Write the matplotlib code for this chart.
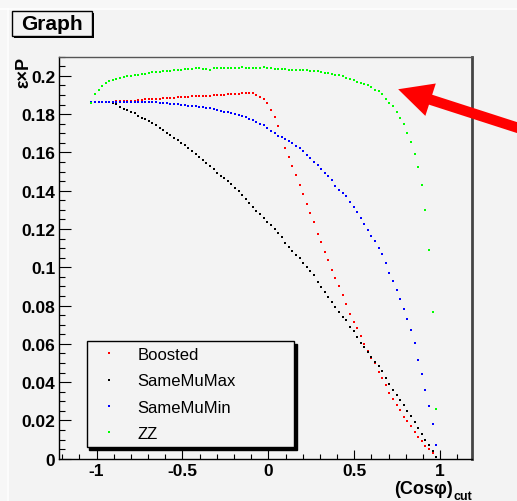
import matplotlib

matplotlib.use("Agg")
import matplotlib.pyplot as plt
from matplotlib.patches import Rectangle
from matplotlib.ticker import FuncFormatter, MultipleLocator

plt.rcParams["font.family"] = ["Liberation Sans", "DejaVu Sans"]

# Scan of the cut on cos(phi)
cos_cut = [
    -1.030, -1.009, -0.988, -0.967, -0.946, -0.926, -0.905, -0.884, -0.863, -0.842,
    -0.821, -0.800, -0.779, -0.758, -0.737, -0.717, -0.696, -0.675, -0.654, -0.633,
    -0.612, -0.591, -0.570, -0.549, -0.528, -0.508, -0.487, -0.466, -0.445, -0.424,
    -0.403, -0.382, -0.361, -0.340, -0.319, -0.299, -0.278, -0.257, -0.236, -0.215,
    -0.194, -0.173, -0.152, -0.131, -0.110, -0.090, -0.069, -0.048, -0.027, -0.006,
    0.015, 0.036, 0.057, 0.078, 0.099, 0.120, 0.140, 0.161, 0.182, 0.203,
    0.224, 0.245, 0.266, 0.287, 0.308, 0.329, 0.349, 0.370, 0.391, 0.412,
    0.433, 0.454, 0.475, 0.496, 0.517, 0.538, 0.558, 0.579, 0.600, 0.621,
    0.642, 0.663, 0.684, 0.705, 0.726, 0.747, 0.767, 0.788, 0.809, 0.830,
    0.851, 0.872, 0.893, 0.914, 0.935, 0.956, 0.976,
]

boosted = [
    0.1861, 0.1861, 0.1861, 0.1861, 0.1861, 0.1861, 0.1861, 0.1868, 0.1870, 0.1870,
    0.1870, 0.1870, 0.1870, 0.1872, 0.1872, 0.1878, 0.1878, 0.1878, 0.1878, 0.1878,
    0.1884, 0.1884, 0.1884, 0.1884, 0.1890, 0.1890, 0.1890, 0.1890, 0.1893, 0.1893,
    0.1893, 0.1896, 0.1896, 0.1896, 0.1900, 0.1900, 0.1900, 0.1900, 0.1903, 0.1905,
    0.1906, 0.1907, 0.1908, 0.1910, 0.1910, 0.1908, 0.1900, 0.1892, 0.1878, 0.1856,
    0.1820, 0.1785, 0.1739, 0.1680, 0.1624, 0.1574, 0.1528, 0.1480, 0.1432, 0.1383,
    0.1333, 0.1283, 0.1237, 0.1172, 0.1130, 0.1081, 0.1036, 0.0985, 0.0944, 0.0900,
    0.0855, 0.0810, 0.0758, 0.0715, 0.0682, 0.0642, 0.0598, 0.0561, 0.0528, 0.0501,
    0.0455, 0.0420, 0.0385, 0.0345, 0.0311, 0.0280, 0.0252, 0.0220, 0.0196, 0.0171,
    0.0142, 0.0112, 0.0090, 0.0068, 0.0050, 0.0030, 0.0008,
]

same_mu_max = [
    0.1861, 0.1861, 0.1861, 0.1861, 0.1861, 0.1861, 0.1856, 0.1851, 0.1838, 0.1828,
    0.1819, 0.1811, 0.1804, 0.1792, 0.1781, 0.1772, 0.1762, 0.1752, 0.1742, 0.1730,
    0.1718, 0.1704, 0.1691, 0.1677, 0.1664, 0.1651, 0.1637, 0.1622, 0.1608, 0.1594,
    0.1578, 0.1562, 0.1545, 0.1529, 0.1512, 0.1494, 0.1478, 0.1464, 0.1449, 0.1433,
    0.1415, 0.1400, 0.1378, 0.1357, 0.1336, 0.1315, 0.1293, 0.1276, 0.1258, 0.1237,
    0.1222, 0.1200, 0.1179, 0.1158, 0.1127, 0.1106, 0.1085, 0.1065, 0.1046, 0.1022,
    0.1004, 0.0980, 0.0958, 0.0923, 0.0897, 0.0872, 0.0846, 0.0820, 0.0791, 0.0765,
    0.0741, 0.0722, 0.0687, 0.0665, 0.0635, 0.0606, 0.0582, 0.0558, 0.0529, 0.0504,
    0.0482, 0.0458, 0.0422, 0.0390, 0.0360, 0.0332, 0.0306, 0.0278, 0.0250, 0.0222,
    0.0192, 0.0160, 0.0128, 0.0097, 0.0071, 0.0040, 0.0008,
]

same_mu_min = [
    0.1861, 0.1861, 0.1861, 0.1861, 0.1861, 0.1861, 0.1861, 0.1861, 0.1861, 0.1861,
    0.1861, 0.1861, 0.1861, 0.1861, 0.1861, 0.1861, 0.1861, 0.1861, 0.1861, 0.1860,
    0.1858, 0.1856, 0.1855, 0.1853, 0.1852, 0.1850, 0.1847, 0.1843, 0.1842, 0.1840,
    0.1838, 0.1835, 0.1833, 0.1830, 0.1825, 0.1819, 0.1815, 0.1812, 0.1809, 0.1805,
    0.1800, 0.1795, 0.1789, 0.1783, 0.1776, 0.1768, 0.1760, 0.1751, 0.1741, 0.1730,
    0.1713, 0.1700, 0.1688, 0.1679, 0.1671, 0.1662, 0.1650, 0.1636, 0.1622, 0.1606,
    0.1588, 0.1571, 0.1552, 0.1533, 0.1514, 0.1494, 0.1475, 0.1455, 0.1425, 0.1405,
    0.1387, 0.1370, 0.1342, 0.1315, 0.1288, 0.1258, 0.1228, 0.1196, 0.1165, 0.1135,
    0.1102, 0.1068, 0.1022, 0.0972, 0.0930, 0.0882, 0.0832, 0.0781, 0.0731, 0.0672,
    0.0605, 0.0515, 0.0442, 0.0359, 0.0277, 0.0183, 0.0072,
]

zz = [
    0.1860, 0.1905, 0.1928, 0.1948, 0.1962, 0.1972, 0.1978, 0.1985, 0.1990, 0.1995,
    0.1998, 0.2000, 0.2003, 0.2005, 0.2008, 0.2010, 0.2014, 0.2018, 0.2020, 0.2022,
    0.2024, 0.2026, 0.2027, 0.2029, 0.2030, 0.2032, 0.2034, 0.2036, 0.2038, 0.2039,
    0.2039, 0.2038, 0.2035, 0.2030, 0.2039, 0.2040, 0.2040, 0.2039, 0.2040, 0.2040,
    0.2039, 0.2040, 0.2046, 0.2040, 0.2039, 0.2040, 0.2039, 0.2040, 0.2045, 0.2040,
    0.2039, 0.2037, 0.2036, 0.2035, 0.2034, 0.2033, 0.2032, 0.2031, 0.2030, 0.2029,
    0.2028, 0.2027, 0.2025, 0.2023, 0.2020, 0.2016, 0.2013, 0.2010, 0.2006, 0.2003,
    0.1997, 0.1991, 0.1985, 0.1978, 0.1970, 0.1962, 0.1960, 0.1950, 0.1940, 0.1928,
    0.1920, 0.1905, 0.1878, 0.1860, 0.1845, 0.1812, 0.1780, 0.1748, 0.1704, 0.1655,
    0.1590, 0.1523, 0.1429, 0.1297, 0.1091, 0.0764, 0.0260,
]

series_names = ["Boosted", "SameMuMax", "SameMuMin", "ZZ"]
series_colors = ["#ff0000", "#000000", "#0000ff", "#00ff00"]

W, H = 517, 502
bg = "#f3f3f3"

fig = plt.figure(figsize=(W / 100, H / 100), dpi=100, facecolor=bg)


def px(x, y):
    # pixel position (from top-left) -> figure fraction
    return x / W, 1 - y / H


# window edge
fig.add_artist(Rectangle((0, 1 - 9 / H), 1, 9 / H, transform=fig.transFigure,
                         facecolor="#f7f7f7", edgecolor="none"))
fig.add_artist(Rectangle((0, 0), 7 / W, 1, transform=fig.transFigure,
                         facecolor="#f7f7f7", edgecolor="none"))
fig.add_artist(plt.Line2D([0, 1], [1 - 9.5 / H] * 2, transform=fig.transFigure,
                          color="white", lw=1.2))
fig.add_artist(plt.Line2D([7.5 / W] * 2, [0, 1 - 9.5 / H], transform=fig.transFigure,
                          color="white", lw=1.2))

x0, y0 = px(59.3, 459.7)
x1, y1 = px(471.7, 57.7)
ax = fig.add_axes([x0, y0, x1 - x0, y1 - y0], facecolor=bg)

data = [boosted, same_mu_max, same_mu_min, zz]
for name, color, values in zip(series_names, series_colors, data):
    ax.plot(cos_cut, values, linestyle="none", marker="s", markersize=2.1,
            markeredgewidth=0, color=color, label=name)

ax.set_xlim(-1.217, 1.184)
ax.set_ylim(0, 0.21)

ax.xaxis.set_major_locator(MultipleLocator(0.5))
ax.xaxis.set_minor_locator(MultipleLocator(0.1))
ax.yaxis.set_major_locator(MultipleLocator(0.02))
ax.yaxis.set_minor_locator(MultipleLocator(0.005))
ax.xaxis.set_major_formatter(FuncFormatter(lambda v, p: f"{v:g}"))
ax.yaxis.set_major_formatter(FuncFormatter(lambda v, p: f"{round(v, 3):g}"))

ax.tick_params(axis="y", which="major", direction="in", length=8.6, width=0.8,
               pad=3, labelsize=12.5)
ax.tick_params(axis="y", which="minor", direction="in", length=4.3, width=0.8)
ax.tick_params(axis="x", which="major", direction="in", length=6.5, width=0.8,
               pad=3, labelsize=12.5)
ax.tick_params(axis="x", which="minor", direction="in", length=3.6, width=0.8)
for lab in ax.get_xticklabels() + ax.get_yticklabels():
    lab.set_fontweight("bold")

for side in ["left", "bottom"]:
    ax.spines[side].set_color("black")
    ax.spines[side].set_linewidth(1.0)
ax.spines["top"].set_color("#555555")
ax.spines["top"].set_linewidth(1.0)
ax.spines["right"].set_color("#444444")
ax.spines["right"].set_linewidth(2.0)

# legend
lx0, ly0 = px(86.7, 342.3)
lx1, _ = px(294.3, 443.3)
leg = ax.legend(
    loc="upper left",
    bbox_to_anchor=((lx0 - x0) / (x1 - x0), (ly0 - y0) / (y1 - y0),
                    (lx1 - lx0) / (x1 - x0), 0),
    mode="expand",
    borderaxespad=0,
    fontsize=12,
    frameon=True,
    fancybox=False,
    shadow={"color": "black", "alpha": 1},
    borderpad=0.35,
    labelspacing=0.68,
    handlelength=2.0,
    handletextpad=0.7,
    markerscale=1.0,
)
leg.get_frame().set_edgecolor("black")
leg.get_frame().set_facecolor(bg)
leg.get_frame().set_linewidth(1.0)

# title box with shadow
fig.add_artist(Rectangle(px(14, 39), 80 / W, 25 / H, transform=fig.transFigure,
                         facecolor="black", edgecolor="none"))
fig.add_artist(Rectangle(px(12, 37), 80 / W, 25 / H, transform=fig.transFigure,
                         facecolor=bg, edgecolor="black", lw=1.0))
fig.text(*px(52, 25), "Graph", ha="center", va="center", fontsize=15,
         fontweight="bold")

# axis titles
fig.text(*px(24, 57), "ε×P", rotation=90, ha="center", va="top",
         fontsize=13, fontweight="bold")
fig.text(*px(453, 494), "(Cosφ)", ha="right", va="baseline",
         fontsize=13, fontweight="bold")
fig.text(*px(453, 500), "cut", ha="left", va="baseline",
         fontsize=9, fontweight="bold")

# arrow pointing at the ZZ plateau edge
ax.annotate(
    "",
    xy=(0.756, 0.193),
    xytext=(540, 502 - 136),
    textcoords="figure pixels",
    arrowprops=dict(width=7.5, headwidth=24.5, headlength=24.5,
                    facecolor="#ff0000", edgecolor="none", shrink=0),
    annotation_clip=False,
)

fig.savefig("out.png", dpi=100, facecolor=bg)
